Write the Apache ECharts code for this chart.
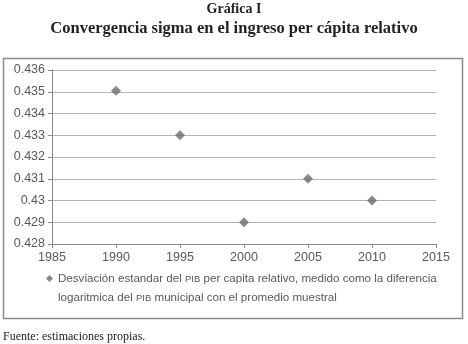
<!DOCTYPE html>
<html>
<head>
<meta charset="utf-8">
<script src="https://cdn.jsdelivr.net/npm/echarts@6/dist/echarts.min.js"></script>
<style>
  html, body { margin: 0; padding: 0; background: #fff; }
  #chart { width: 468px; height: 344px; }
</style>
</head>
<body>
<div id="chart"></div>
<script>
// data
const years = [1990, 1995, 2000, 2005, 2010];
const sigma = [0.43505, 0.433, 0.429, 0.431, 0.43];
const seriesName = "Desviación estandar del PIB per capita relativo, medido como la diferencia logaritmica del PIB municipal con el promedio muestral";
const titleLines = ["Gráfica I", "Convergencia sigma en el ingreso per cápita relativo"];
const sourceNote = "Fuente: estimaciones propias.";

const LABEL_COLOR = "#595959";
const GRID_COLOR = "#b5b5b5";
const AXIS_COLOR = "#8a8a8a";
const MARK_COLOR = "#6b6b6b";
const SANS = "'Liberation Sans', Arial, sans-serif";
const SERIF = "'Liberation Serif', 'DejaVu Serif', serif";

const chart = echarts.init(document.getElementById("chart"), null, { renderer: "canvas" });

chart.setOption({
  animation: false,
  backgroundColor: "#fff",
  graphic: [
    {
      type: "rect",
      shape: { x: 3.5, y: 58.5, width: 459, height: 260 },
      style: { fill: "none", stroke: "#8c8c8c", lineWidth: 1.5 },
      silent: true,
    },
    {
      type: "text",
      left: "center",
      top: 2,
      style: { text: titleLines[0], font: "bold 14px " + SERIF, fill: "#222" },
    },
    {
      type: "text",
      left: "center",
      top: 20,
      style: { text: titleLines[1], font: "bold 16.5px " + SERIF, fill: "#222" },
    },
    {
      type: "text",
      left: 3,
      top: 331,
      style: { text: sourceNote, font: "12px " + SERIF, fill: "#222" },
    },
  ],
  grid: { left: 52, right: 32, top: 70, bottom: 100, containLabel: false },
  xAxis: {
    type: "value",
    min: 1985,
    max: 2015,
    interval: 5,
    axisLine: { show: true, lineStyle: { color: AXIS_COLOR } },
    axisTick: { show: true, length: 4, lineStyle: { color: AXIS_COLOR } },
    axisLabel: {
      color: LABEL_COLOR,
      fontSize: 12.5,
      fontFamily: SANS,
      margin: 7,
      formatter: (v) => String(v),
    },
    splitLine: { show: false },
  },
  yAxis: {
    type: "value",
    min: 0.428,
    max: 0.436,
    interval: 0.001,
    axisLine: { show: true, lineStyle: { color: AXIS_COLOR } },
    axisTick: { show: true, length: 4, lineStyle: { color: AXIS_COLOR } },
    axisLabel: {
      color: LABEL_COLOR,
      fontSize: 12.5,
      fontFamily: SANS,
      margin: 7,
      formatter: (v) => String(Number(v.toFixed(3))),
    },
    splitLine: { show: true, lineStyle: { color: GRID_COLOR } },
  },
  legend: {
    left: 41,
    top: 245,
    icon: "diamond",
    itemWidth: 7,
    itemHeight: 7,
    itemGap: 4,
    data: [seriesName],
    // leading empty line keeps the marker level with the first text line
    formatter: () =>
      "{a| }\n" +
      "{a|Desviación estandar del }{b|PIB}{a| per capita relativo, medido como la diferencia}\n" +
      "{a|logaritmica del }{b|PIB}{a| municipal con el promedio muestral}",
    textStyle: {
      color: LABEL_COLOR,
      fontFamily: SANS,
      lineHeight: 19,
      rich: {
        a: { fontSize: 11.6, fontFamily: SANS, color: LABEL_COLOR, lineHeight: 19, verticalAlign: "middle" },
        b: { fontSize: 9.5, fontFamily: SANS, color: LABEL_COLOR, lineHeight: 19, verticalAlign: "middle", padding: [2, 0, 0, 0] },
      },
    },
  },
  series: [
    {
      name: seriesName,
      type: "scatter",
      symbol: "diamond",
      symbolSize: 10,
      itemStyle: { color: MARK_COLOR },
      data: years.map((y, i) => [y, sigma[i]]),
    },
  ],
});
</script>
</body>
</html>
